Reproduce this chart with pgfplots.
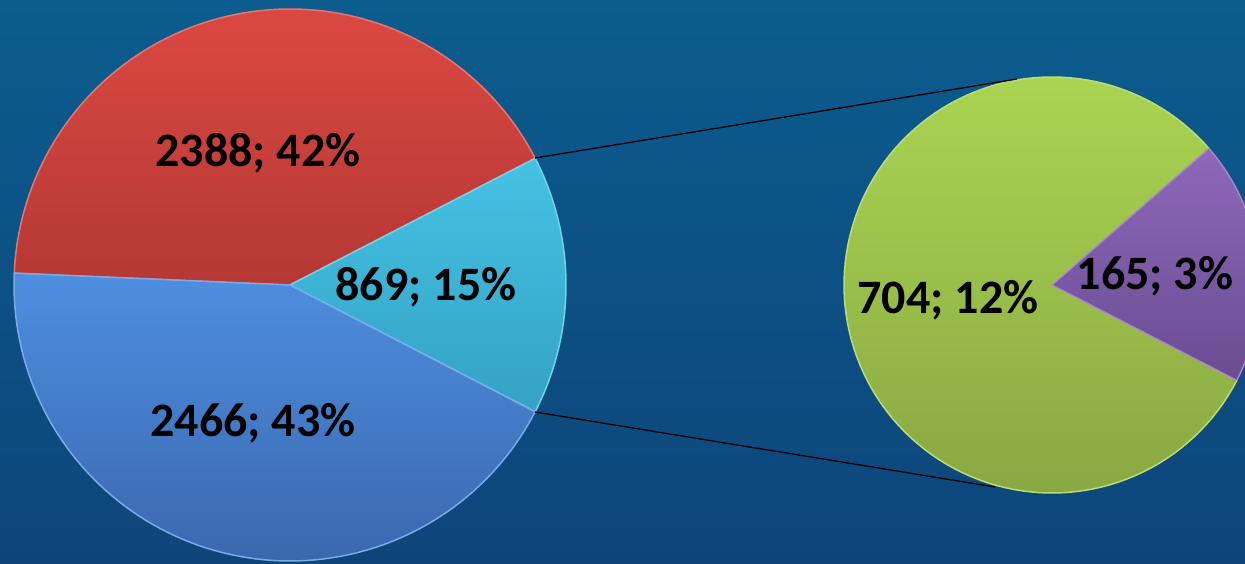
\documentclass[border=0pt]{standalone}
\usepackage{pgfplots}
\pgfplotsset{compat=1.18}
\usepackage{fontspec}
\setmainfont{Carlito}

\definecolor{bgtop}{HTML}{0C5C8E}
\definecolor{bgbot}{HTML}{0D457A}
\definecolor{redA}{HTML}{DB4842}
\definecolor{redB}{HTML}{B43834}
\definecolor{cyanA}{HTML}{45C2E4}
\definecolor{cyanB}{HTML}{34A2C4}
\definecolor{bluA}{HTML}{4E8EE0}
\definecolor{bluB}{HTML}{3A68AE}
\definecolor{grnA}{HTML}{AAD452}
\definecolor{grnB}{HTML}{89A842}
\definecolor{purA}{HTML}{8E68BA}
\definecolor{purB}{HTML}{6A4C92}

\begin{document}
\begin{tikzpicture}
% values
\def\vRed{2388}
\def\vCyan{869}
\def\vBlue{2466}
\def\vGreen{704}
\def\vPurple{165}
% angles of the main pie (the split-off slice is centred on 0 degrees)
\pgfmathsetmacro{\tot}{\vRed+\vCyan+\vBlue}
\pgfmathsetmacro{\aA}{180*(\vCyan/\tot)}
\pgfmathsetmacro{\aB}{\aA+360*(\vRed/\tot)}
\pgfmathsetmacro{\aC}{360-\aA}
% angles of the secondary pie
\pgfmathsetmacro{\bA}{-27.3}
\pgfmathsetmacro{\bB}{\bA+360*(\vPurple/(\vGreen+\vPurple))}
\pgfmathsetmacro{\bC}{\bA+360}
\begin{axis}[
  width=1245pt, height=563pt, scale only axis,
  xmin=0, xmax=1245, ymin=0, ymax=563,
  axis lines=none, ticks=none,
  axis background/.style={top color=bgtop, bottom color=bgbot},
  clip=true,
  nodes={font=\bfseries\fontsize{48}{52}\selectfont, text=black, anchor=base, inner sep=0pt},
  ]
  % main pie, centre (290,278), radius 276
  \addplot[top color=redA, bottom color=redB, draw=redA!75!white, line width=1.5pt,
    domain=\aA:\aB, samples=90, variable=\t]
    ({290+276*cos(t)},{278+276*sin(t)}) -- (290,278) -- cycle;
  \addplot[top color=cyanA, bottom color=cyanB, draw=cyanA!75!white, line width=1.5pt,
    domain=-\aA:\aA, samples=40, variable=\t]
    ({290+276*cos(t)},{278+276*sin(t)}) -- (290,278) -- cycle;
  \addplot[top color=bluA, bottom color=bluB, draw=bluA!75!white, line width=1.5pt,
    domain=\aB:\aC, samples=90, variable=\t]
    ({290+276*cos(t)},{278+276*sin(t)}) -- (290,278) -- cycle;
  % secondary pie, centre (1052,278), radius 208
  \addplot[top color=grnA, bottom color=grnB, draw=grnA!80!white, line width=1.5pt,
    domain=\bB:\bC, samples=120, variable=\t]
    ({1052+208*cos(t)},{278+208*sin(t)}) -- (1052,278) -- cycle;
  \addplot[top color=purA, bottom color=purB, draw=purA!80!white, line width=1.5pt,
    domain=\bA:\bB, samples=40, variable=\t]
    ({1052+208*cos(t)},{278+208*sin(t)}) -- (1052,278) -- cycle;
  % connector lines
  \addplot[black, line width=1.3pt] coordinates {(535,405) (1017,484)};
  \addplot[black, line width=1.3pt] coordinates {(535,151) (995,76)};
  % labels
  \node at (axis cs:258,396) {2388; 42\%};
  \node at (axis cs:426,262) {869; 15\%};
  \node at (axis cs:253,127) {2466; 43\%};
  \node at (axis cs:948,250) {704; 12\%};
  \node at (axis cs:1155,273) {165; 3\%};
\end{axis}
\end{tikzpicture}
\end{document}
